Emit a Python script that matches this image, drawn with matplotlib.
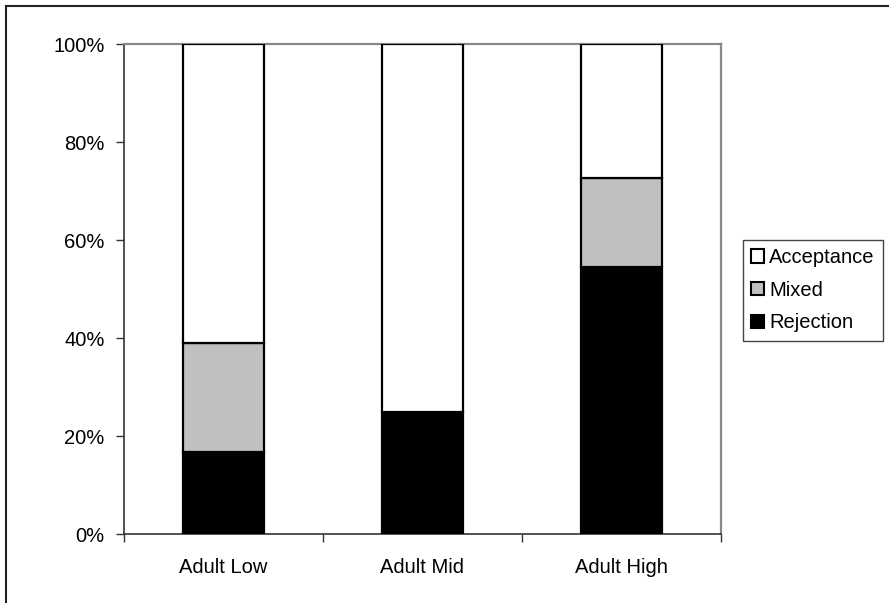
import matplotlib
matplotlib.use('Agg')
import matplotlib.pyplot as plt
import numpy as np
from matplotlib.lines import Line2D
from matplotlib.ticker import FixedLocator, PercentFormatter

# --- data (percent of responses per group) ---
groups = ['Adult Low', 'Adult Mid', 'Adult High']
rejection = [16.7, 25.0, 54.5]
mixed = [22.2, 0.0, 18.2]
acceptance = [61.1, 75.0, 27.3]

plt.rcParams.update({
    'font.family': ['Liberation Sans', 'DejaVu Sans'],
    'font.size': 14.5,
})

fig = plt.figure(figsize=(8.89, 6.03), dpi=100)
fig.patch.set_facecolor('white')
ax = fig.add_axes([124 / 889, 69 / 603, 597 / 889, 490 / 603])

x = np.arange(1, len(groups) + 1)
width = 0.41
bar_kw = dict(width=width, edgecolor='black', linewidth=1.6, zorder=3)

b_rej = ax.bar(x, rejection, color='black', label='Rejection', **bar_kw)
b_mix = ax.bar(x, mixed, bottom=rejection, color='#c0c0c0', label='Mixed', **bar_kw)
bottom2 = [r + m for r, m in zip(rejection, mixed)]
b_acc = ax.bar(x, acceptance, bottom=bottom2, color='white', label='Acceptance', **bar_kw)

ax.set_xlim(0.5, len(groups) + 0.5)
ax.set_ylim(0, 100)
ax.yaxis.set_major_locator(FixedLocator([0, 20, 40, 60, 80, 100]))
ax.yaxis.set_major_formatter(PercentFormatter(decimals=0))

# category labels centred, tick marks on the boundaries
ax.set_xticks(x)
ax.set_xticklabels(groups)
ax.tick_params(axis='x', which='major', length=0, pad=17)
ax.xaxis.set_minor_locator(FixedLocator(np.arange(0.5, len(groups) + 1, 1.0)))
ax.tick_params(axis='x', which='minor', length=6, width=1, color='#333333', direction='out')
ax.tick_params(axis='y', length=6, width=1, color='#333333', direction='out', pad=8)

for side in ['left', 'bottom']:
    ax.spines[side].set_color('#333333')
    ax.spines[side].set_linewidth(1.2)
for side in ['top', 'right']:
    ax.spines[side].set_color('#888888')
    ax.spines[side].set_linewidth(1.6)

handles = [b_acc, b_mix, b_rej]
leg = ax.legend(handles, ['Acceptance', 'Mixed', 'Rejection'],
                loc='upper left', bbox_to_anchor=(743 / 889, 1 - 240 / 603),
                bbox_transform=fig.transFigure, fancybox=False, frameon=True,
                edgecolor='#444444', framealpha=1, borderpad=0.4,
                handlelength=0.65, handleheight=0.65, handletextpad=0.25,
                labelspacing=0.68, borderaxespad=0, fontsize=14.5)
leg.get_frame().set_linewidth(1.0)
for h in leg.legend_handles:
    h.set_linewidth(1.5)
    h.set_edgecolor('black')

# outer chart border (only the left and top edges are in view)
fig.add_artist(Line2D([5.5 / 889, 5.5 / 889], [0, 1 - 5.5 / 603], transform=fig.transFigure,
                      color='#222222', linewidth=1.5))
fig.add_artist(Line2D([5.5 / 889, 1], [1 - 5.5 / 603, 1 - 5.5 / 603], transform=fig.transFigure,
                      color='#222222', linewidth=1.5))

fig.savefig('out.png', dpi=100, facecolor='white')
